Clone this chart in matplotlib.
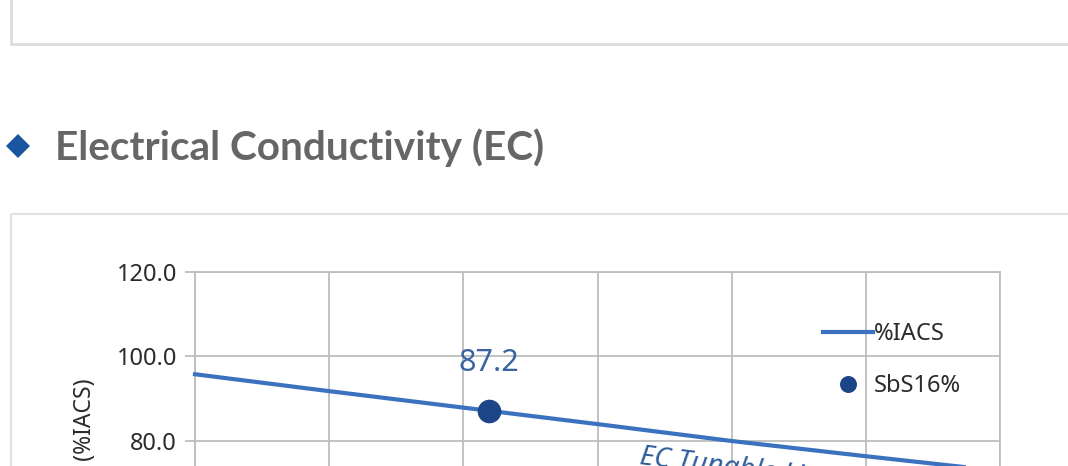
import numpy as np
import matplotlib.pyplot as plt
from matplotlib.patches import Rectangle, Polygon

# chart data (x positions are the grid columns, labels are cropped off in the source)
x_pos = [0, 1, 2, 3, 4, 5, 6]
iacs = [95.8, 91.8, 87.9, 84.0, 80.0, 76.4, 72.9]
sample_x = [2.19]
sample_y = [87.2]
y_ticks = [40.0, 60.0, 80.0, 100.0, 120.0]

W, H = 1068, 466
fig = plt.figure(figsize=(W / 100, H / 100), dpi=100)
fig.patch.set_facecolor('white')

# page background layer in pixel coordinates
bg = fig.add_axes([0, 0, 1, 1], zorder=0)
bg.set_xlim(0, W)
bg.set_ylim(H, 0)
bg.axis('off')

bg.add_patch(Rectangle((11, -20), 1100, 64, fill=False, ec='#dcdcdc', lw=2))
bg.add_patch(Rectangle((11, 214), 1100, 400, fill=False, ec='#e2e2e2', lw=1.5))
bg.add_patch(Polygon([(6, 146), (18, 134), (30, 146), (18, 158)], closed=True,
                     fc='#1a56a0', ec='none'))
bg.text(55, 148, 'Electrical Conductivity (EC)', fontsize=29.2, fontweight='bold',
        family='Lato', color='#666666', va='center', ha='left')

# chart axes: left 195px, right 1000px, top 272px, 20 units = 84.5px
top_px, left_px, right_px = 272, 195, 1000
ymin, ymax = 40, 120
bottom_px = top_px + (ymax - ymin) / 20 * 84.5
ax = fig.add_axes([left_px / W, 1 - bottom_px / H, (right_px - left_px) / W,
                   (bottom_px - top_px) / H], zorder=1)
ax.set_facecolor('none')
ax.set_xlim(0, 6)
ax.set_ylim(ymin, ymax)
ax.set_xticks(x_pos)
ax.set_xticklabels([])
ax.set_yticks(y_ticks)
ax.set_yticklabels(['%.1f' % v for v in y_ticks], family='Noto Sans', fontsize=17,
                   color='#2b2b2b')
ax.grid(True, color='#bdbdbd', lw=1.3)
ax.tick_params(axis='y', length=7, color='#bdbdbd', width=1.3, pad=6)
ax.tick_params(axis='x', length=0)
for s in ax.spines.values():
    s.set_color('#bdbdbd')
    s.set_linewidth(1.3)

ax.plot(x_pos, iacs, color='#3b72c0', lw=3, label='%IACS', clip_on=False, zorder=3)
ax.plot(sample_x, sample_y, 'o', color='#1c4587', ms=16, label='SbS16%', zorder=4)
ax.text(sample_x[0], sample_y[0] + 11.3, '87.2', family='Noto Sans', fontsize=22,
        color='#3a64a0', ha='center', va='center')
ax.text(3.33, 79.6, 'EC Tunable Line', family='Noto Sans', style='italic', fontsize=20,
        color='#2e5c9a', rotation=-7, rotation_mode='anchor', ha='left', va='top')

leg = ax.legend(loc='upper left', bbox_to_anchor=((802 - left_px) / (right_px - left_px), 0.915),
                frameon=False, prop={'family': 'Noto Sans', 'size': 17},
                handlelength=2.1, labelspacing=1.2, handletextpad=0.05, markerscale=0.7)
for t in leg.get_texts():
    t.set_color('#2b2b2b')

fig.text(85 / W, 1 - 378 / H, 'EC (%IACS)', rotation=90, family='Noto Sans', fontsize=16.5,
         color='#2b2b2b', ha='center', va='top')

fig.savefig('out.png', dpi=100, facecolor='white')
